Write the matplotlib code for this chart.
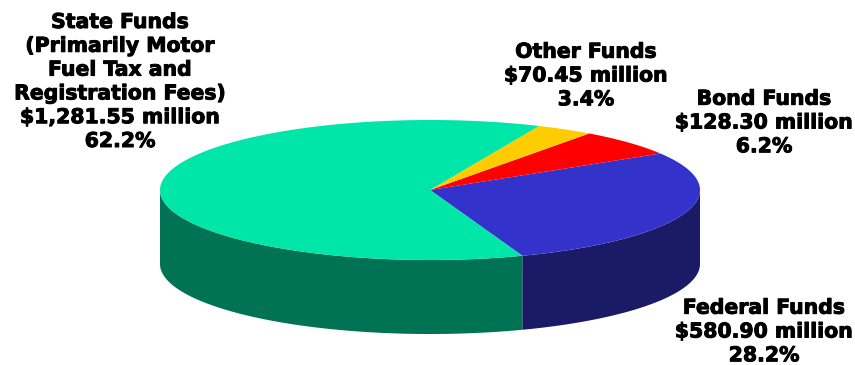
import matplotlib
matplotlib.use('Agg')
import matplotlib.pyplot as plt
import matplotlib.patheffects as pe
import numpy as np

labels = ['Federal Funds\n$580.90 million\n28.2%',
          'Bond Funds\n$128.30 million\n6.2%',
          'Other Funds\n$70.45 million\n3.4%',
          'State Funds\n(Primarily Motor\nFuel Tax and\nRegistration Fees)\n$1,281.55 million\n62.2%']
values = [580.90, 128.30, 70.45, 1281.55]
top_colors = ['#3333cc', '#ff0000', '#ffcc00', '#00e6a8']
side_colors = ['#1a1a66', '#800000', '#806600', '#007354']
label_pos = [(764, 332), (764, 123), (586, 76), (120, 82)]

cx, cy, rx, ry = 430, 190, 270, 70
depth = 74
start_angle = -70

W, H = 855, 365
fig = plt.figure(figsize=(W / 100, H / 100), dpi=100)
ax = fig.add_axes([0, 0, 1, 1])
ax.set_xlim(0, W)
ax.set_ylim(H, 0)
ax.axis('off')


def rim(a, b):
    t = np.radians(np.linspace(a, b, 200))
    return cx + rx * np.cos(t), cy - ry * np.sin(t)


spans = np.array(values) / sum(values) * 360
edges = start_angle + np.concatenate([[0], np.cumsum(spans)])

# side walls first, only the front half of the rim is visible
for i in range(len(values)):
    a, b = edges[i], edges[i + 1]
    for lo, hi in [(a, b), (a - 360, b - 360)]:
        lo, hi = max(lo, -180), min(hi, 0)
        if hi <= lo:
            continue
        x, y = rim(lo, hi)
        ax.fill(np.r_[x, x[::-1]], np.r_[y, y[::-1] + depth],
                color=side_colors[i], lw=0, zorder=1)

# top face
for i in range(len(values)):
    x, y = rim(edges[i], edges[i + 1])
    ax.fill(np.r_[cx, x], np.r_[cy, y], color=top_colors[i], lw=0, zorder=2)

for (lx, ly), s in zip(label_pos, labels):
    ax.text(lx, ly, s, ha='center', va='center', family='DejaVu Sans',
            fontweight='bold', fontsize=14.7, linespacing=1.32, color='black',
            path_effects=[pe.withStroke(linewidth=0.7, foreground='black')], zorder=3)

fig.savefig('out.png', dpi=100, facecolor='white')
